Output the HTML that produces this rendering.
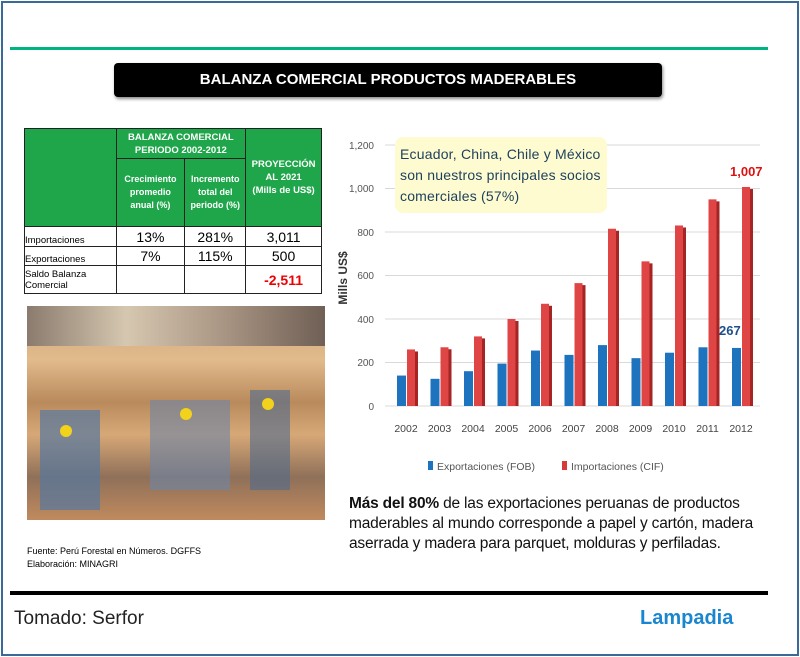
<!DOCTYPE html>
<html><head><meta charset="utf-8"><style>
body{margin:0;width:800px;height:657px;background:#fff;position:relative;overflow:hidden;font-family:"Liberation Sans",sans-serif}
.a{position:absolute}
table{border-collapse:collapse;font-family:"Liberation Sans",sans-serif}
td{border:1px solid #222;padding:0;text-align:center}
.g{background:#1fa64a;color:#fff;font-weight:bold;font-size:9.5px;line-height:13px}
</style></head><body>
<div class="a" style="left:1px;top:1px;width:794px;height:651px;border:2px solid #3a6a98"></div>
<div class="a" style="left:10px;top:47px;width:758px;height:3px;background:#00b383"></div>
<div class="a" style="left:114px;top:63px;width:548px;height:34px;background:#000;border-radius:4px;box-shadow:1px 2px 3px #888;color:#fff;font-weight:bold;font-size:15px;text-align:center;line-height:34px">BALANZA COMERCIAL PRODUCTOS MADERABLES</div>

<table class="a" style="left:24px;top:128px;width:298px;height:165px">
<tr style="height:30px"><td class="g" rowspan="2" style="width:91px"></td><td class="g" colspan="2">BALANZA COMERCIAL<br>PERIODO 2002-2012</td><td class="g" rowspan="2" style="width:75px">PROYECCIÓN<br>AL 2021<br>(Mills de US$)</td></tr>
<tr style="height:68px"><td class="g" style="width:68px;font-size:9px">Crecimiento<br>promedio<br>anual (%)</td><td class="g" style="width:60px;font-size:9px">Incremento<br>total del<br>periodo (%)</td></tr>
<tr style="height:20px;font-size:14px"><td style="text-align:left;font-size:9.5px;vertical-align:bottom">Importaciones</td><td>13%</td><td>281%</td><td>3,011</td></tr>
<tr style="height:19px;font-size:14px"><td style="text-align:left;font-size:9.5px;vertical-align:bottom">Exportaciones</td><td>7%</td><td>115%</td><td>500</td></tr>
<tr style="height:28px"><td style="text-align:left;font-size:9.5px;line-height:11px">Saldo Balanza<br>Comercial</td><td></td><td></td><td style="color:#e00;font-weight:bold;font-size:14px">-2,511</td></tr>
</table>

<div class="a" style="left:27px;top:306px;width:298px;height:214px;background:linear-gradient(180deg,#c9a27a 0%,#e2bb8c 25%,#b98a5c 45%,#d7a877 60%,#8f7059 80%,#c08a5e 100%)"></div>
<div class="a" style="left:27px;top:306px;width:298px;height:40px;background:linear-gradient(90deg,#8a7b6e,#d6c7b0,#a89482,#6f5f55)"></div>
<div class="a" style="left:40px;top:410px;width:60px;height:100px;background:#5577a0;opacity:.7"></div>
<div class="a" style="left:150px;top:400px;width:80px;height:90px;background:#6c86a8;opacity:.6"></div>
<div class="a" style="left:250px;top:390px;width:40px;height:100px;background:#4f6a8e;opacity:.6"></div>
<div class="a" style="left:60px;top:425px;width:12px;height:12px;border-radius:6px;background:#f2d21a"></div>
<div class="a" style="left:180px;top:408px;width:12px;height:12px;border-radius:6px;background:#f2d21a"></div>
<div class="a" style="left:262px;top:398px;width:12px;height:12px;border-radius:6px;background:#f2d21a"></div>
<div class="a" style="left:27px;top:545px;font-size:9px;line-height:13px">Fuente: Perú Forestal en Números. DGFFS<br>Elaboración: MINAGRI</div>

<svg class="a" style="left:0;top:0" width="800" height="657" font-family="Liberation Sans, sans-serif">
<g stroke="#d9d9d9" stroke-width="1">
<line x1="385" x2="760" y1="406" y2="406"/><line x1="385" x2="760" y1="362.5" y2="362.5"/><line x1="385" x2="760" y1="319" y2="319"/><line x1="385" x2="760" y1="275.5" y2="275.5"/><line x1="385" x2="760" y1="232" y2="232"/><line x1="385" x2="760" y1="188.5" y2="188.5"/><line x1="385" x2="760" y1="145" y2="145"/>
</g>
<g font-size="10" fill="#555" text-anchor="end">
<text x="374" y="410">0</text><text x="374" y="366">200</text><text x="374" y="323">400</text><text x="374" y="279">600</text><text x="374" y="236">800</text><text x="374" y="192">1,000</text><text x="374" y="149">1,200</text>
</g>
<text transform="translate(347,278) rotate(-90)" text-anchor="middle" font-size="12" font-weight="bold" fill="#333">Mills US$</text>
<g id="bars"></g>
<rect x="395" y="137" width="212" height="76" rx="8" fill="#fdfbcf"/>
<g font-size="14" fill="#1d3f5e" letter-spacing="0.2"><text x="400" y="159">Ecuador, China, Chile y México</text><text x="400" y="180">son nuestros principales socios</text><text x="400" y="201">comerciales (57%)</text></g>
<text x="730" y="176" font-size="13" font-weight="bold" fill="#e01010">1,007</text>
<text x="719" y="335" font-size="13" font-weight="bold" fill="#1f4e8c">267</text>
<g font-size="10.5" fill="#444" text-anchor="middle" id="yrs"></g>
<rect x="428" y="461" width="5" height="9" fill="#1e73be"/><text x="437" y="470" font-size="10.5" fill="#555">Exportaciones (FOB)</text>
<rect x="562" y="461" width="5" height="9" fill="#d83a3a"/><text x="571" y="470" font-size="10.5" fill="#555">Importaciones (CIF)</text>
</svg>
<script>
var ex=[140,125,160,195,255,235,280,220,245,270,267],im=[260,270,320,400,470,565,815,665,830,950,1007];
var s='',y='';
for(var i=0;i<11;i++){var c=403+33.5*i;
var he=ex[i]*0.2175,hi=im[i]*0.2175;
s+='<rect x="'+(c-6)+'" y="'+(406-he)+'" width="9" height="'+he+'" fill="#1e73be"/>';
s+='<rect x="'+(c+4)+'" y="'+(406-hi)+'" width="8" height="'+hi+'" fill="#e04545"/><rect x="'+(c+12)+'" y="'+(408-hi)+'" width="3" height="'+(hi-2)+'" fill="#a52424"/>';
y+='<text x="'+(c+3)+'" y="432">'+(2002+i)+'</text>';}
document.getElementById('bars').innerHTML=s;document.getElementById('yrs').innerHTML=y;
</script>
<div class="a" style="left:349px;top:494px;font-size:15.5px;line-height:20px;color:#111;letter-spacing:-0.2px"><b>Más del 80%</b> de las exportaciones peruanas de productos<br>maderables al mundo corresponde a papel y cartón, madera<br>aserrada y madera para parquet, molduras y perfiladas.</div>
<div class="a" style="left:10px;top:591px;width:758px;height:4px;background:#000"></div>
<div class="a" style="left:14px;top:608px;font-size:19px;color:#222">Tomado: Serfor</div>
<div class="a" style="left:640px;top:607px;font-size:20px;font-weight:bold;color:#1a86d0">Lampadia</div>
</body></html>
